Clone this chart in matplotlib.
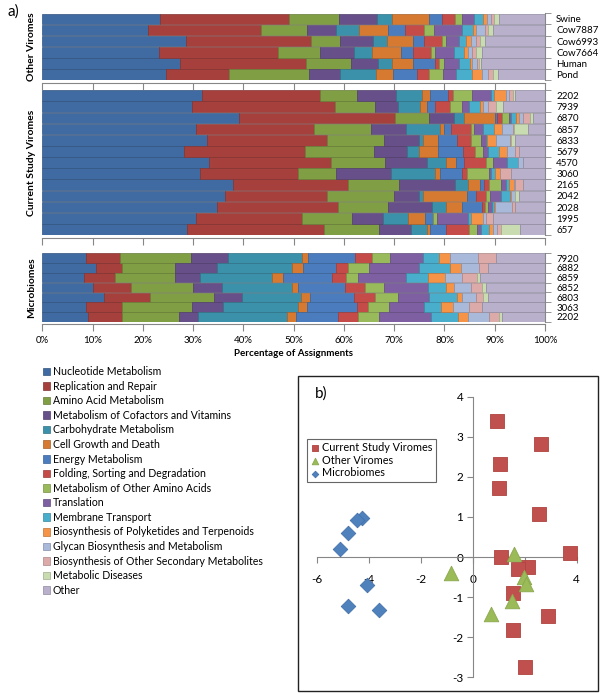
import numpy as np
import matplotlib
matplotlib.use("Agg")
import matplotlib.pyplot as plt
from matplotlib.patches import Rectangle
from matplotlib.colors import to_rgb

plt.rcParams['font.family'] = ['Lato', 'DejaVu Sans']

categories = ["Nucleotide Metabolism", "Replication and Repair", "Amino Acid Metabolism",
              "Metabolism of Cofactors and Vitamins", "Carbohydrate Metabolism",
              "Cell Growth and Death", "Energy Metabolism", "Folding, Sorting and Degradation",
              "Metabolism of Other Amino Acids", "Translation", "Membrane Transport",
              "Biosynthesis of Polyketides and Terpenoids", "Glycan Biosynthesis and Metabolism",
              "Biosynthesis of Other Secondary Metabolites", "Metabolic Diseases", "Other"]
colors = ["#3F6BA2", "#A6403D", "#809F45", "#674F89", "#3B91A9", "#D67A32",
          "#4A7CBE", "#C44B48", "#98BA5A", "#7E60A2", "#48AECB", "#F59346",
          "#A8B9DA", "#DBAAA9", "#C9DCB1", "#B9B0CC"]

# cumulative right edges (%) of the first 15 segments; "Other" fills to 100%
other_names = ["Swine", "Cow7887", "Cow6993", "Cow7664", "Human", "Pond"]
other_cum = [
    [23.4, 49.1, 59.1, 66.6, 69.6, 77.0, 79.6, 82.1, 83.5, 85.9, 87.7, 88.4, 89.3, 89.9, 90.9],
    [21.0, 43.6, 52.7, 58.4, 63.0, 68.8, 72.2, 76.0, 77.9, 83.5, 85.6, 86.2, 88.1, 88.7, 89.7],
    [28.6, 53.4, 59.2, 65.7, 68.6, 73.8, 75.9, 79.6, 80.4, 82.8, 84.3, 85.3, 86.2, 87.1, 88.1],
    [23.3, 46.9, 55.2, 62.0, 65.6, 71.3, 73.7, 77.3, 78.1, 81.9, 83.8, 84.6, 85.4, 86.3, 87.4],
    [27.3, 52.5, 61.5, 66.7, 69.5, 73.8, 78.1, 79.0, 79.9, 82.8, 85.1, 85.5, 86.4, 86.9, 87.2],
    [24.7, 37.2, 53.1, 59.2, 66.4, 69.8, 74.6, 77.0, 79.8, 82.3, 85.5, 87.4, 88.7, 89.7, 90.7],
]
current_names = ["2202", "7939", "6870", "6857", "6833", "5679", "4570", "3060",
                 "2165", "2042", "2028", "1995", "657"]
current_cum = [
    [31.7, 55.2, 62.7, 70.4, 75.6, 77.1, 80.8, 81.6, 85.4, 89.3, 89.9, 92.2, 92.9, 93.7, 94.0],
    [29.8, 58.2, 66.2, 70.7, 75.1, 76.6, 78.1, 81.1, 83.4, 84.9, 87.1, 87.7, 88.6, 90.3, 91.6],
    [39.2, 70.2, 77.0, 81.9, 83.9, 90.1, 90.4, 91.5, 92.9, 93.2, 94.2, 94.8, 95.6, 97.0, 97.7],
    [30.5, 54.0, 65.4, 72.3, 79.2, 79.9, 81.4, 85.3, 85.9, 87.6, 89.9, 91.4, 93.7, 93.9, 96.7],
    [32.7, 56.7, 68.0, 74.9, 75.8, 78.7, 82.4, 85.3, 87.3, 88.2, 88.4, 90.2, 93.0, 93.2, 94.0],
    [28.2, 52.3, 66.0, 72.5, 74.9, 78.8, 83.6, 86.1, 87.7, 88.6, 90.9, 92.5, 94.0, 94.8, 94.8],
    [33.2, 57.4, 68.2, 76.5, 80.4, 82.3, 83.9, 88.2, 89.7, 92.4, 94.7, 94.7, 95.7, 95.7, 95.7],
    [31.4, 50.8, 58.4, 69.4, 78.1, 79.1, 83.4, 84.5, 88.9, 89.3, 90.1, 91.0, 91.0, 93.2, 93.2],
    [38.0, 60.9, 71.0, 82.1, 84.6, 87.1, 87.9, 88.9, 91.2, 92.2, 92.9, 93.8, 94.1, 95.6, 95.6],
    [36.4, 56.6, 70.0, 74.9, 75.8, 84.4, 86.3, 88.2, 89.1, 91.2, 93.0, 93.2, 94.0, 94.0, 94.9],
    [34.8, 58.9, 68.8, 77.5, 80.4, 83.5, 87.4, 88.1, 88.7, 89.4, 89.9, 90.1, 93.5, 94.0, 94.0],
    [30.5, 51.6, 61.7, 67.7, 72.7, 76.1, 77.8, 77.8, 78.5, 84.6, 85.2, 87.7, 88.2, 89.6, 89.6],
    [28.8, 56.1, 67.0, 73.3, 76.5, 77.1, 80.3, 84.9, 86.4, 87.3, 88.9, 89.6, 90.5, 91.2, 95.0],
]
micro_names = ["7920", "6882", "6859", "6852", "6803", "3063", "2202"]
micro_cum = [
    [8.7, 15.5, 29.6, 37.0, 51.6, 52.9, 62.2, 65.5, 69.2, 75.7, 79.0, 81.2, 86.7, 90.3, 90.3],
    [10.6, 15.9, 26.4, 34.8, 49.7, 51.9, 58.4, 60.9, 64.9, 75.0, 81.2, 83.3, 86.9, 88.7, 88.7],
    [8.2, 14.5, 26.4, 31.4, 45.6, 47.8, 57.6, 60.4, 62.9, 72.3, 76.8, 80.2, 83.5, 86.4, 87.1],
    [10.1, 17.6, 29.9, 35.8, 49.6, 50.9, 60.2, 64.2, 68.0, 76.7, 80.4, 81.9, 85.3, 87.4, 88.3],
    [12.3, 21.4, 34.2, 39.7, 51.5, 53.3, 62.0, 66.2, 70.8, 77.0, 82.4, 83.5, 86.3, 87.7, 88.7],
    [8.7, 15.8, 29.7, 35.9, 50.8, 52.6, 62.7, 64.7, 69.0, 76.0, 79.3, 81.6, 84.9, 87.4, 87.4],
    [9.0, 15.9, 27.2, 31.0, 48.7, 50.5, 58.9, 62.9, 67.0, 77.3, 82.6, 84.6, 88.9, 90.8, 91.5],
]
group_titles = ["Other Viromes", "Current Study Viromes", "Microbiomes"]
xticks_pct = [0, 10, 20, 30, 40, 50, 60, 70, 80, 90, 100]

# PCA scatter
cur_x = [0.91, 2.63, 1.06, 1.01, 2.54, 3.76, 1.10, 2.13, 1.74, 1.55, 2.90, 1.53, 2.00]
cur_y = [3.40, 2.83, 2.32, 1.72, 1.07, 0.11, 0.00, -0.25, -0.29, -0.89, -1.46, -1.82, -2.75]
oth_x = [1.59, -0.86, 1.97, 2.04, 1.49, 0.68]
oth_y = [0.08, -0.39, -0.50, -0.67, -1.10, -1.43]
mic_x = [-4.28, -4.47, -4.82, -5.12, -4.09, -4.82, -3.63]
mic_y = [0.98, 0.93, 0.60, 0.19, -0.69, -1.23, -1.31]

W, H = 600, 693
fig = plt.figure(figsize=(6.0, 6.93), dpi=100)

def fr(x0, y0, x1, y1):
    return [x0 / W, 1 - y1 / H, (x1 - x0) / W, (y1 - y0) / H]

axis_gray = "#868686"

def darker(c, f=0.78):
    r, g, b = to_rgb(c)
    return (r * f, g * f, b * f)

panels = [
    (fr(42.3, 13.3, 545, 80.0), other_names, other_cum),
    (fr(42.3, 90.0, 545, 235.0), current_names, current_cum),
    (fr(42.3, 253.3, 545, 321.7), micro_names, micro_cum),
]
axes = []
for i, (rect, names, cum) in enumerate(panels):
    ax = fig.add_axes(rect)
    n = len(names)
    ypos = np.arange(n)
    cum_arr = np.array(cum)
    ends = np.hstack([cum_arr, np.full((n, 1), 100.0)])
    starts = np.hstack([np.zeros((n, 1)), cum_arr])
    widths = ends - starts
    for k in range(len(categories)):
        ax.barh(ypos, widths[:, k], left=starts[:, k], height=0.96,
                color=colors[k], edgecolor=darker(colors[k]), linewidth=0.5,
                label=categories[k] if i == 0 else None)
    ax.set_xlim(0, 100)
    ax.set_ylim(n - 0.5, -0.5)
    for s in ["top", "left"]:
        ax.spines[s].set_visible(False)
    ax.spines["bottom"].set_color(axis_gray)
    ax.spines["bottom"].set_position(("outward", 2))
    ax.spines["right"].set_color(axis_gray)
    ax.set_xticks(xticks_pct)
    ax.tick_params(axis="x", direction="out", length=5, color=axis_gray,
                   labelsize=7, pad=3)
    if i < 2:
        ax.tick_params(axis="x", labelbottom=False)
    else:
        ax.set_xticklabels([f"{v}%" for v in xticks_pct])
        ax.set_xlabel("Percentage of Assignments", fontsize=7, fontweight="bold",
                      labelpad=3)
    ax.yaxis.tick_right()
    ax.set_yticks(ypos)
    ax.set_yticklabels(names, fontsize=7)
    ax.set_yticks(np.arange(n + 1) - 0.5, minor=True)
    ax.tick_params(axis="y", which="major", length=0, pad=8)
    ax.tick_params(axis="y", which="minor", length=4, color=axis_gray, direction="out")
    ax.text(-0.0205, 0.5, group_titles[i], transform=ax.transAxes, rotation=90,
            ha="center", va="center", fontsize=7.5, fontweight="bold")
    axes.append(ax)

fig.text(8 / W, 1 - 12 / H, "a)", fontsize=11, va="center", ha="left")

handles, labels = axes[0].get_legend_handles_labels()
fig.legend(handles, labels, loc="upper left", bbox_to_anchor=(42.5 / W, 1 - 366 / H),
           frameon=False, fontsize=7.6, handlelength=0.72, handleheight=0.72,
           handletextpad=0.25, labelspacing=0.34, borderaxespad=0, borderpad=0)

# panel b frame
fig.patches.append(Rectangle((297.5 / W, 1 - 690.7 / H), 300.5 / W, 314.7 / H,
                             transform=fig.transFigure, fill=False,
                             edgecolor="#222222", linewidth=1.0))
fig.text(315 / W, 1 - 394 / H, "b)", fontsize=11, va="center", ha="left")

axs = fig.add_axes(fr(317.3, 396.7, 576.7, 677.3))
axs.scatter(cur_x, cur_y, marker="s", s=95, color="#C0504D", edgecolor="#B0433F",
            linewidth=0.6, label="Current Study Viromes", zorder=3)
axs.scatter(oth_x, oth_y, marker="^", s=110, color="#9BBB59", edgecolor="#8AA84C",
            linewidth=0.6, label="Other Viromes", zorder=3)
axs.scatter(mic_x, mic_y, marker="D", s=55, color="#4F81BD", edgecolor="#4372AA",
            linewidth=0.6, label="Microbiomes", zorder=3)
axs.set_xlim(-6, 4)
axs.set_ylim(-3, 4)
axs.set_xticks([-6, -4, -2, 0, 2, 4])
axs.set_yticks([-3, -2, -1, 0, 1, 2, 3, 4])
axs.set_xticklabels(["-6", "-4", "-2", "0", "2", "4"])
axs.set_yticklabels(["-3", "-2", "-1", "0", "1", "2", "3", "4"])
axs.spines["left"].set_position(("data", 0))
axs.spines["bottom"].set_position(("data", 0))
for s in ["top", "right"]:
    axs.spines[s].set_visible(False)
for s in ["left", "bottom"]:
    axs.spines[s].set_color(axis_gray)
axs.tick_params(axis="both", direction="out", length=4, color=axis_gray,
                labelsize=8.5, width=0.8)
axs.tick_params(axis="x", pad=8)
axs.tick_params(axis="y", pad=3)
axs.patch.set_alpha(0)
leg = axs.legend(loc="upper left", bbox_to_anchor=(307.3 / W, 1 - 439 / H),
                 bbox_transform=fig.transFigure, fontsize=7.8, frameon=True,
                 fancybox=False, edgecolor="#404040", markerscale=0.45,
                 handlelength=0.8, handletextpad=0.3, labelspacing=0.15,
                 borderpad=0.3, borderaxespad=0)
leg.get_frame().set_linewidth(0.8)

fig.savefig("out.png", dpi=100)
